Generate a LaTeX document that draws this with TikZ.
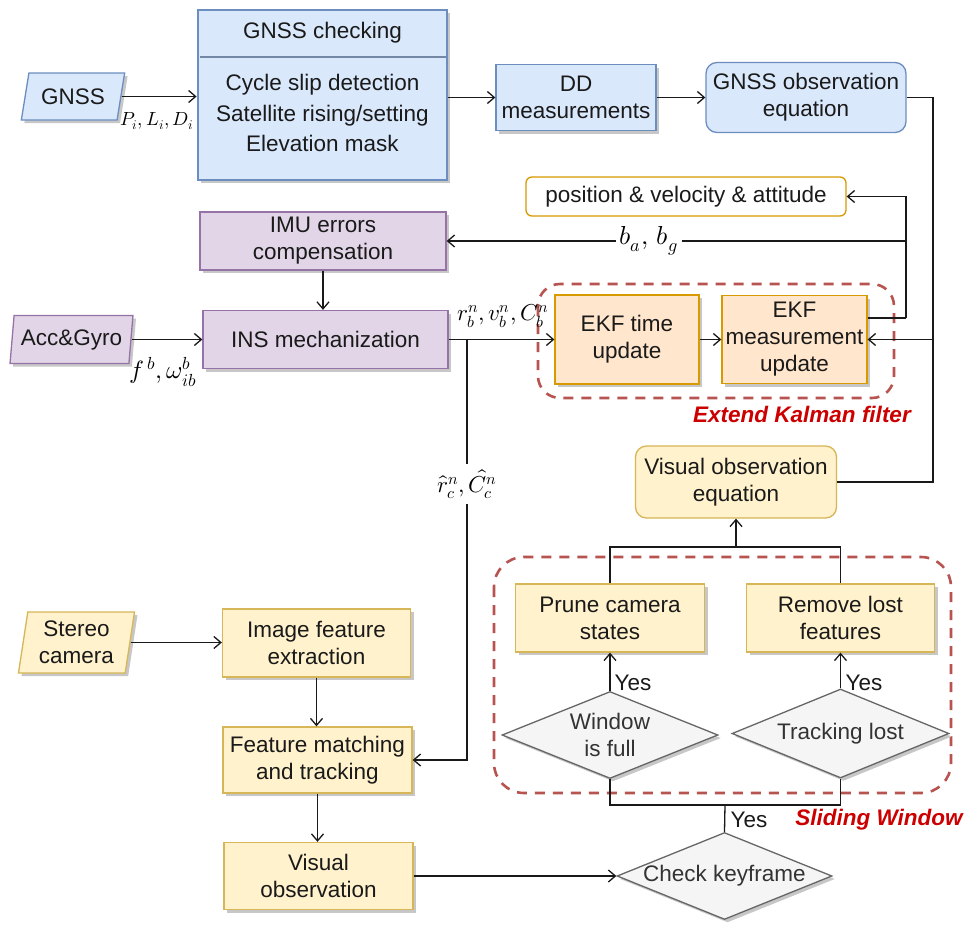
\documentclass[tikz,border=0pt]{standalone}
\usepackage{fontspec}
\usepackage{unicode-math}
\setmainfont{Liberation Sans}
\setmathfont{Latin Modern Math}
\usetikzlibrary{arrows.meta,shapes.geometric,shadows}
\definecolor{bfill}{HTML}{DAE8FC}\definecolor{bline}{HTML}{6C8EBF}
\definecolor{pfill}{HTML}{E1D5E7}\definecolor{pline}{HTML}{9673A6}
\definecolor{yfill}{HTML}{FFF2CC}\definecolor{yline}{HTML}{D6B656}
\definecolor{ofill}{HTML}{FFE6CC}\definecolor{oline}{HTML}{D79B00}
\definecolor{gfill}{HTML}{F5F5F5}\definecolor{gline}{HTML}{666666}
\definecolor{rdash}{HTML}{B85450}\definecolor{rtext}{HTML}{CC0000}
\definecolor{txt}{HTML}{1A1A1A}
\tikzset{
  base/.style={align=center, inner sep=0pt, line width=1.3pt, text=txt,
    font=\fontsize{22.5}{27}\selectfont},
  shad/.style={drop shadow={shadow xshift=3pt, shadow yshift=-3pt, fill=black!22, opacity=1}},
  bluebox/.style={base, rectangle, draw=bline, fill=bfill},
  purplebox/.style={base, rectangle, draw=pline, fill=pfill, shad},
  yellowbox/.style={base, rectangle, draw=yline, fill=yfill, shad},
  orangebox/.style={base, rectangle, draw=oline, fill=ofill, shad},
  decision/.style={base, diamond, aspect=2.5, draw=gline, fill=gfill, text=black!80, shad},
  para/.style={shape=trapezium, trapezium stretches=true},
  arr/.style={line width=1.3pt, draw=black!90, -{Straight Barb[length=7pt,width=12pt,line width=1.3pt]}},
  ln/.style={line width=1.3pt, draw=black!90},
  mlbl/.style={inner sep=1pt, font=\fontsize{23}{26}\selectfont},
  frame/.style={draw=rdash, line width=2.6pt, dash pattern=on 10pt off 8pt},
  ftitle/.style={inner sep=0pt, text=rtext, font=\fontsize{22.5}{27}\selectfont\bfseries\itshape},
}
\begin{document}
\begin{tikzpicture}[x=1pt,y=-1pt]
\useasboundingbox[fill=white] (0,0) rectangle (978,926);

% dashed frames
\draw[frame, rounded corners=22pt] (538,284) rectangle (894,398);
\draw[frame, rounded corners=30pt] (494,557) rectangle (951,793);
\node[ftitle] (ekftitle) at (802,414) {Extend Kalman filter};
\node[ftitle] (swtitle) at (879,820) {Sliding Window};

% GNSS branch
\node[bluebox, shad, para, trapezium left angle=71, trapezium right angle=109,
  minimum width=104pt, minimum height=47pt] (gnss) at (73,96.5) {GNSS};
\node[bluebox, shad, line width=2.8pt, minimum width=249pt, minimum height=170pt] (chk) at (322.5,95) {};
\draw[bline!60!gray, line width=1.2pt] (199.5,57) -- (445.5,57);
\node[base] (chkh) at (322.5,33) {GNSS checking};
\node[base, font=\fontsize{22.5}{30.5}\selectfont] (chkb) at (322.5,113) {Cycle slip detection\\Satellite rising/setting\\Elevation mask};
\node[bluebox, shad, minimum width=160pt, minimum height=66pt] (dd) at (576,97.5) {DD\\measurements};
\node[bluebox, rounded corners=11pt, minimum width=200pt, minimum height=70pt] (geq) at (806,97.5) {GNSS observation\\equation};
\node[base, draw=oline, fill=white, rounded corners=6pt, minimum width=320pt, minimum height=39pt] (pos) at (686,196.5) {position \& velocity \& attitude};

% INS branch
\node[purplebox, minimum width=246pt, minimum height=58pt] (imu) at (323,241) {IMU errors\\compensation};
\node[purplebox, minimum width=245pt, minimum height=58pt] (ins) at (325.5,339.5) {INS mechanization};
\node[purplebox, para, trapezium left angle=80, trapezium right angle=100,
  minimum width=123pt, minimum height=48pt] (acc) at (71.5,339.5) {Acc\&Gyro};
\node[orangebox, minimum width=144pt, minimum height=89pt] (ekft) at (627,339.5) {EKF time\\update};
\node[orangebox, minimum width=145pt, minimum height=88pt] (ekfm) at (794.5,339.5) {EKF\\measurement\\update};

% visual branch
\node[yellowbox, para, trapezium left angle=80.5, trapezium right angle=99.5,
  minimum width=117pt, minimum height=61pt] (stereo) at (76.5,642.5) {Stereo\\camera};
\node[yellowbox, minimum width=188pt, minimum height=68pt] (imgfe) at (316.5,643) {Image feature\\extraction};
\node[yellowbox, minimum width=189pt, minimum height=66pt] (fmt) at (317.5,760) {Feature matching\\and tracking};
\node[yellowbox, minimum width=189pt, minimum height=67pt] (vobs) at (318.5,876) {Visual\\observation};
\node[decision, minimum width=215pt, minimum height=87pt] (ck) at (724.5,876) {Check keyframe};
\node[decision, minimum width=216pt, minimum height=87pt] (win) at (610,735) {Window\\is full};
\node[decision, minimum width=217pt, minimum height=89pt] (trk) at (840.5,733.5) {Tracking lost};
\node[yellowbox, minimum width=189pt, minimum height=68pt] (prune) at (610,618) {Prune camera\\states};
\node[yellowbox, minimum width=188pt, minimum height=68pt] (remove) at (840.5,618) {Remove lost\\features};
\node[base, draw=yline, fill=yfill, rounded corners=11pt, minimum width=201pt, minimum height=72pt] (veq) at (736,482) {Visual observation\\equation};

% helper coordinates
\coordinate (R1) at (933,0);
\coordinate (R2) at (906,318);
\coordinate (B1) at (467,339.5);
\coordinate (K) at (736,547);
\coordinate (J) at (725,805);

% connectors: GNSS
\draw[arr] (gnss.east) -- (gnss.east -| chk.west);
\node[mlbl, font=\fontsize{19}{22}\selectfont] (pld) at (157,121) {$P_i,L_i,D_i$};
\draw[arr] (chk.east |- dd.west) -- (dd.west);
\draw[arr] (dd.east) -- (geq.west);
\draw[arr] (geq.east) -| (R1 |- ekfm.east) -- (ekfm.east);
\draw[ln] (veq.east) -| (R1 |- ekfm.east);
\draw[ln] (ekfm.east |- R2) -- (R2);
\draw[arr] (R2) |- (pos.east);
\draw[arr] (R2 |- imu.east) -- node[mlbl, fill=white, pos=0.56, inner xsep=4pt, font=\fontsize{26}{28}\selectfont] (bab) {$b_a,\,b_g$} (imu.east);

% connectors: INS
\draw[arr] (imu.south) -- (imu.south |- ins.north);
\draw[arr] (acc.east) -- (acc.east -| ins.west);
\node[mlbl, font=\fontsize{25}{28}\selectfont] (fw) at (163,372) {$f^{\,b},\omega_{ib}^{b}$};
\draw[arr] (ins.east) -- (ekft.west);
\node[mlbl, font=\fontsize{23}{26}\selectfont] (rvc) at (503,316) {$r_b^n,v_b^n,C_b^n$};
\draw[arr] (ekft.east) -- (ekfm.west);
\draw[arr] (B1) |- (fmt.east);
\node[mlbl, fill=white, inner ysep=6pt] (rc) at (467,484) {$\hat{r}_c^n,\hat{C}_c^n$};

% connectors: visual
\draw[arr] (stereo.east) -- (stereo.east -| imgfe.west);
\draw[arr] (imgfe.south) -- (imgfe.south |- fmt.north);
\draw[arr] (fmt.south) -- (fmt.south |- vobs.north);
\draw[arr] (vobs.east) -- (ck.west);
\draw[ln] (ck.north) -- (J);
\draw[ln] (win.south) |- (J) -| (trk.south);
\node[base, anchor=west] (yes3) at (730,820) {Yes};
\draw[arr] (win.north) -- (prune.south);
\node[base, anchor=west] (yes1) at (614,683) {Yes};
\draw[arr] (trk.north) -- (remove.south);
\node[base, anchor=west] (yes2) at (845,683) {Yes};
\draw[ln] (prune.north) |- (K) -| (remove.north);
\draw[arr] (K) -- (veq.south);
\end{tikzpicture}
\end{document}
